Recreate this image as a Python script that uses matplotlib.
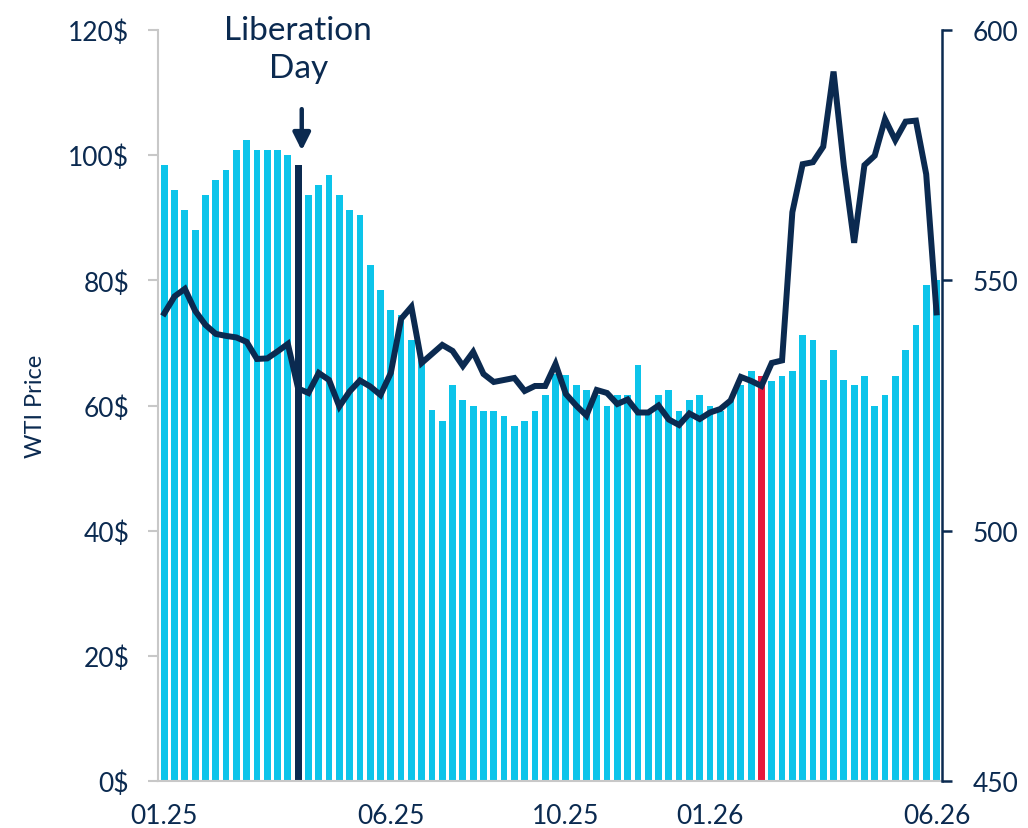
import matplotlib
matplotlib.use("Agg")
import matplotlib.pyplot as plt
import numpy as np

plt.rcParams['font.family'] = ['Lato', 'DejaVu Sans']

# weekly WTI price (left axis, $)
wti = [98.5, 94.5, 91.3, 88.0, 93.7, 96.1, 97.7, 100.9, 102.4, 100.9,
       100.9, 100.9, 100.0, 98.4, 93.7, 95.3, 96.8, 93.7, 91.3, 90.4,
       82.5, 78.4, 75.2, 74.4, 70.4, 67.3, 59.3, 57.6, 63.3, 60.8,
       60.0, 59.2, 59.2, 58.4, 56.8, 57.6, 59.2, 61.7, 65.0, 64.8,
       63.2, 62.4, 61.7, 60.0, 61.6, 61.6, 66.5, 59.0, 61.6, 62.4,
       59.2, 60.8, 61.6, 60.0, 59.2, 60.8, 63.2, 65.5, 64.7, 63.9,
       64.7, 65.5, 71.2, 70.4, 64.0, 68.8, 64.0, 63.2, 64.7, 60.0,
       61.6, 64.7, 68.8, 72.8, 79.2, 80.1]

# second series (right axis)
index = [543.4, 546.8, 548.3, 543.9, 541.1, 539.3, 538.9, 538.6, 537.7, 534.3,
         534.4, 535.8, 537.3, 528.4, 527.5, 531.5, 530.1, 524.8, 527.8, 530.0,
         528.8, 527.1, 531.5, 542.3, 544.7, 533.5, 535.3, 537.1, 535.9, 532.9,
         535.7, 531.3, 529.7, 530.1, 530.5, 527.9, 528.9, 528.9, 533.3, 527.3,
         525.0, 523.0, 528.1, 527.5, 525.3, 526.2, 523.6, 523.6, 525.0, 522.2,
         521.1, 523.4, 522.3, 523.6, 524.3, 526.0, 530.7, 529.9, 528.9, 533.5,
         534.0, 563.6, 573.2, 573.6, 576.7, 591.7, 572.9, 557.5, 573.0, 574.9,
         582.2, 578.0, 581.7, 581.9, 571.2, 543.6]

tick_pos = [0, 22, 39, 53, 75]
tick_labels = ['01.25', '06.25', '10.25', '01.26', '06.26']
lib_day = 13
red_week = 58

navy = '#0b2a50'
cyan = '#0cc4ea'
red = '#e8193c'
grey = '#c8c8c8'

x = np.arange(len(wti))
colors = [cyan] * len(wti)
colors[lib_day] = navy
colors[red_week] = red

fig = plt.figure(figsize=(10.28, 8.29), dpi=100)
ax = fig.add_axes([0.154, 0.0567, 0.7623, 0.9059])
ax.bar(x, wti, width=0.66, color=colors, zorder=2)
ax.set_xlim(-0.58, 75.53)
ax.set_ylim(0, 120)
ax.set_yticks(np.arange(0, 121, 20))
ax.set_yticklabels([f'{v}$' for v in range(0, 121, 20)])
ax.set_xticks(tick_pos)
ax.set_xticklabels(tick_labels)
ax.tick_params(axis='y', colors=grey, labelcolor=navy, labelsize=19, length=7, width=1.5, pad=14)
ax.tick_params(axis='x', length=0, labelcolor=navy, labelsize=19, pad=16)
ax.set_ylabel('WTI Price', color=navy, fontsize=17, labelpad=16)
for s in ['top', 'right']:
    ax.spines[s].set_visible(False)
ax.spines['left'].set_color(grey)
ax.spines['bottom'].set_color(grey)
ax.spines['left'].set_linewidth(1.5)
ax.spines['bottom'].set_linewidth(1.5)

ax2 = ax.twinx()
ax2.plot(x, index, color=navy, lw=4.3, solid_joinstyle='miter', zorder=3)
ax2.set_ylim(450, 600)
ax2.set_yticks([450, 500, 550, 600])
ax2.tick_params(axis='y', colors=navy, labelsize=19, length=7, width=1.8, pad=15)
for s in ['top', 'left', 'bottom']:
    ax2.spines[s].set_visible(False)
ax2.spines['right'].set_color(navy)
ax2.spines['right'].set_linewidth(1.8)

ax.annotate('', xy=(lib_day + 0.35, 100.3), xytext=(lib_day + 0.35, 107.8),
            arrowprops=dict(arrowstyle='-|>', color=navy, lw=3.2, mutation_scale=26))
ax.text(lib_day, 111.5, 'Liberation\nDay', ha='center', va='bottom', color=navy,
        fontsize=24, linespacing=1.35)

fig.savefig('out.png', dpi=100)
